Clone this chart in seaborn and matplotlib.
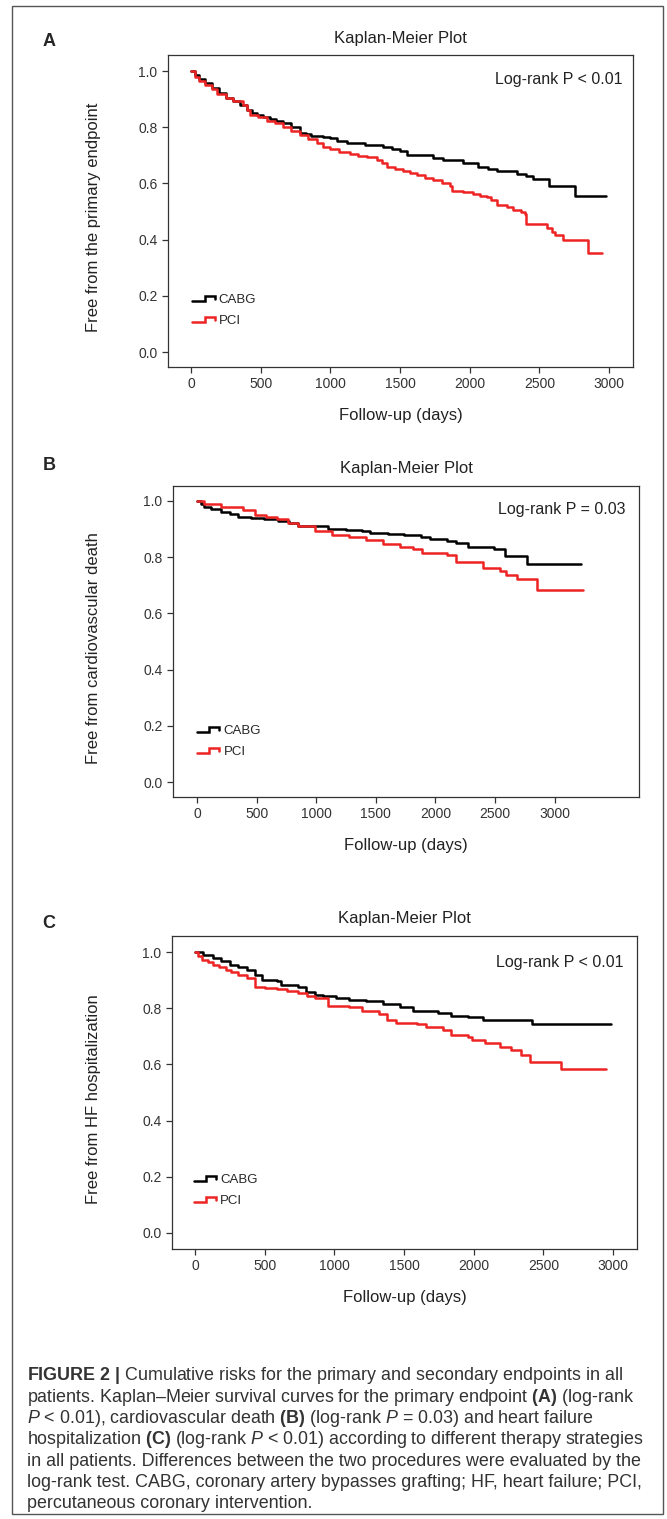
import numpy as np
import pandas as pd
import matplotlib
matplotlib.use("Agg")
import matplotlib.pyplot as plt
import seaborn as sns
from matplotlib.lines import Line2D
from matplotlib.patches import Rectangle
from matplotlib.legend_handler import HandlerBase

# Panel A - primary endpoint (Kaplan-Meier steps)
a_cabg_days = [0, 30, 60, 100, 150, 200, 250, 300, 350, 400, 440, 473, 520, 567, 610, 660, 720, 782, 823, 860,
               904, 950, 997, 1050, 1119, 1250, 1378, 1440, 1499, 1549, 1736, 1808, 1951, 2059, 2130, 2195,
               2338, 2400, 2453, 2568, 2755, 2975]
a_cabg_surv = [1.0, 0.985, 0.972, 0.958, 0.940, 0.922, 0.905, 0.893, 0.880, 0.862, 0.850, 0.843, 0.838, 0.830,
               0.823, 0.815, 0.800, 0.780, 0.775, 0.770, 0.768, 0.764, 0.760, 0.752, 0.745, 0.738, 0.728, 0.722,
               0.714, 0.700, 0.692, 0.683, 0.674, 0.660, 0.652, 0.644, 0.632, 0.626, 0.617, 0.590, 0.555, 0.555]
a_pci_days = [0, 30, 60, 100, 150, 186, 250, 300, 373, 400, 423, 480, 543, 600, 663, 720, 782, 840, 902, 950,
              997, 1060, 1141, 1200, 1260, 1332, 1370, 1404, 1460, 1523, 1570, 1619, 1680, 1739, 1800, 1858,
              1870, 1950, 2025, 2070, 2121, 2150, 2193, 2270, 2312, 2370, 2396, 2403, 2551, 2590, 2611, 2671,
              2851, 2946]
a_pci_surv = [1.0, 0.980, 0.965, 0.950, 0.935, 0.918, 0.905, 0.895, 0.879, 0.860, 0.843, 0.835, 0.823, 0.815,
              0.802, 0.788, 0.772, 0.758, 0.743, 0.730, 0.721, 0.712, 0.705, 0.697, 0.693, 0.683, 0.672, 0.660,
              0.652, 0.645, 0.637, 0.630, 0.620, 0.612, 0.602, 0.591, 0.574, 0.568, 0.562, 0.556, 0.551, 0.540,
              0.523, 0.515, 0.505, 0.498, 0.490, 0.456, 0.440, 0.428, 0.416, 0.399, 0.354, 0.354]

# Panel B - cardiovascular death
b_cabg_days = [0, 30, 61, 120, 204, 280, 346, 450, 561, 680, 776, 847, 1097, 1250, 1382, 1453, 1600, 1739,
               1882, 1954, 2097, 2169, 2277, 2490, 2580, 2765, 3222]
b_cabg_surv = [1.0, 0.988, 0.980, 0.972, 0.962, 0.952, 0.944, 0.940, 0.935, 0.928, 0.921, 0.909, 0.899, 0.896,
               0.893, 0.887, 0.883, 0.879, 0.873, 0.864, 0.858, 0.850, 0.837, 0.828, 0.804, 0.775, 0.775]
b_pci_days = [0, 61, 204, 383, 490, 580, 669, 760, 847, 992, 1135, 1278, 1421, 1564, 1707, 1814, 1886, 2097,
              2169, 2400, 2542, 2595, 2684, 2852, 3236]
b_pci_surv = [1.0, 0.988, 0.980, 0.968, 0.950, 0.942, 0.935, 0.922, 0.909, 0.893, 0.879, 0.873, 0.861, 0.847,
              0.837, 0.828, 0.814, 0.808, 0.784, 0.763, 0.751, 0.737, 0.721, 0.683, 0.683]

# Panel C - heart failure hospitalization
c_cabg_days = [0, 60, 128, 190, 250, 310, 372, 433, 479, 585, 616, 738, 799, 860, 921, 1013, 1105, 1227, 1349,
               1471, 1562, 1745, 1837, 1959, 2066, 2417, 2982]
c_cabg_surv = [1.0, 0.990, 0.979, 0.967, 0.955, 0.946, 0.937, 0.919, 0.901, 0.896, 0.884, 0.876, 0.856, 0.848,
               0.842, 0.836, 0.830, 0.824, 0.816, 0.806, 0.791, 0.783, 0.773, 0.769, 0.759, 0.745, 0.745]
c_pci_days = [0, 25, 51, 90, 128, 170, 219, 260, 311, 372, 433, 500, 585, 660, 738, 800, 860, 952, 1105, 1196,
              1318, 1379, 1440, 1593, 1654, 1776, 1837, 1959, 1989, 2081, 2188, 2264, 2341, 2402, 2625, 2951]
c_pci_surv = [1.0, 0.985, 0.973, 0.963, 0.955, 0.945, 0.937, 0.928, 0.919, 0.907, 0.877, 0.872, 0.868, 0.861,
              0.854, 0.845, 0.836, 0.809, 0.804, 0.791, 0.780, 0.759, 0.747, 0.745, 0.733, 0.723, 0.706, 0.698,
              0.688, 0.676, 0.661, 0.650, 0.635, 0.607, 0.584, 0.584]

panel_letters = ["A", "B", "C"]
y_labels = ["Free from the primary endpoint", "Free from cardiovascular death", "Free from HF hospitalization"]
logrank_texts = ["Log-rank P < 0.01", "Log-rank P = 0.03", "Log-rank P < 0.01"]
group_names = ["CABG", "PCI"]
x_ticks = [0, 500, 1000, 1500, 2000, 2500, 3000]
y_ticks = [0.0, 0.2, 0.4, 0.6, 0.8, 1.0]

caption_lines = [
    r"$\mathbf{FIGURE\ 2\ |}$ Cumulative risks for the primary and secondary endpoints in all",
    r"patients. Kaplan–Meier survival curves for the primary endpoint $\mathbf{(A)}$ (log-rank",
    r"$P$ < 0.01), cardiovascular death $\mathbf{(B)}$ (log-rank $P$ = 0.03) and heart failure",
    r"hospitalization $\mathbf{(C)}$ (log-rank $P$ < 0.01) according to different therapy strategies",
    "in all patients. Differences between the two procedures were evaluated by the",
    "log-rank test. CABG, coronary artery bypasses grafting; HF, heart failure; PCI,",
    "percutaneous coronary intervention.",
]

RED = "#ee2424"
palette = {"CABG": "black", "PCI": RED}

sns.set_style("ticks")
plt.rcParams["font.family"] = ["Liberation Sans", "DejaVu Sans"]
plt.rcParams["mathtext.fontset"] = "custom"
plt.rcParams["mathtext.rm"] = "Liberation Sans"
plt.rcParams["mathtext.it"] = "Liberation Sans:italic"
plt.rcParams["mathtext.bf"] = "Liberation Sans:bold"

W, H = 667, 1519
fig = plt.figure(figsize=(W / 100, H / 100), dpi=100)


class StepHandler(HandlerBase):
    # little step glyph like the original legend keys
    def create_artists(self, legend, orig_handle, xdescent, ydescent, width, height, fontsize, trans):
        yc = height / 2 - ydescent
        d = 0.17 * fontsize
        x0 = -xdescent
        xs = [x0, x0 + 0.55 * width, x0 + 0.55 * width, x0 + width, x0 + width]
        ys = [yc - d, yc - d, yc + d, yc + d, yc - d * 0.2]
        line = Line2D(xs, ys, color=orig_handle.get_color(), lw=orig_handle.get_linewidth(),
                      solid_joinstyle="miter")
        line.set_transform(trans)
        return [line]


# pixel boxes (left, top, right, bottom), x limits, y limits, logrank pos, legend anchor
layout = [
    dict(box=(168, 55, 633, 367), xlim=(-165, 3171), ylim=(-0.053, 1.057), lr=(0.978, 0.920), leg=(0.052, 0.181),
         letter=(49, 42)),
    dict(box=(173, 486, 639, 797), xlim=(-201, 3708), ylim=(-0.053, 1.053), lr=(0.970, 0.923), leg=(0.0515, 0.178),
         letter=(49, 466)),
    dict(box=(172, 936, 637, 1249), xlim=(-165, 3171), ylim=(-0.057, 1.057), lr=(0.970, 0.914), leg=(0.047, 0.187),
         letter=(49, 923)),
]

curves = [
    (a_cabg_days, a_cabg_surv, a_pci_days, a_pci_surv),
    (b_cabg_days, b_cabg_surv, b_pci_days, b_pci_surv),
    (c_cabg_days, c_cabg_surv, c_pci_days, c_pci_surv),
]

for i, (lay, (cd, cs, pd_, ps)) in enumerate(zip(layout, curves)):
    l, t, r, b = lay["box"]
    ax = fig.add_axes([l / W, 1 - b / H, (r - l) / W, (b - t) / H])

    df = pd.DataFrame({
        "day": list(cd) + list(pd_),
        "surv": list(cs) + list(ps),
        "group": [group_names[0]] * len(cd) + [group_names[1]] * len(pd_),
    })
    sns.lineplot(data=df, x="day", y="surv", hue="group", palette=palette, drawstyle="steps-post",
                 estimator=None, legend=False, lw=1.8, ax=ax)

    ax.set_xlim(*lay["xlim"])
    ax.set_ylim(*lay["ylim"])
    ax.set_xticks(x_ticks)
    ax.set_yticks(y_ticks)
    ax.set_yticklabels([f"{v:.1f}" for v in y_ticks])
    ax.tick_params(direction="out", length=4.5, width=0.9, color="#333333", labelsize=10,
                   labelcolor="#333333", pad=3)
    for sp in ax.spines.values():
        sp.set_color("#333333")
        sp.set_linewidth(0.9)

    ax.set_title("Kaplan-Meier Plot", fontsize=12, color="#222222", pad=9)
    ax.set_xlabel("Follow-up (days)", fontsize=12, color="#222222", labelpad=12)
    ax.set_ylabel(y_labels[i], fontsize=12, color="#222222")
    ax.yaxis.set_label_coords((101 - l) / (r - l), 0.48)

    ax.text(lay["lr"][0], lay["lr"][1], logrank_texts[i], transform=ax.transAxes, ha="right", va="center",
            fontsize=11.5, color="#222222")

    handles = [Line2D([], [], color=palette[g], lw=1.8) for g in group_names]
    ax.legend(handles=handles, labels=group_names, handler_map={Line2D: StepHandler()}, loc="center left",
              bbox_to_anchor=lay["leg"], frameon=False, fontsize=9.5, handlelength=1.7, handletextpad=0.3,
              borderpad=0, borderaxespad=0, labelspacing=0.65)

    lx, ly = lay["letter"]
    fig.text(lx / W, 1 - ly / H, panel_letters[i], fontsize=13, fontweight="bold", ha="center", va="center")

# outer frame of the figure box
fig.add_artist(Rectangle((12 / W, 1 - 1514 / H), (663 - 12) / W, (1514 - 6) / H, transform=fig.transFigure,
                         fill=False, ec="#555555", lw=1.0))

# caption
for k, line in enumerate(caption_lines):
    fig.text(27 / W, 1 - (1376 + k * 21.3) / H, line, fontsize=12.9, color="#333333", ha="left", va="center")

fig.savefig("out.png", dpi=100)
